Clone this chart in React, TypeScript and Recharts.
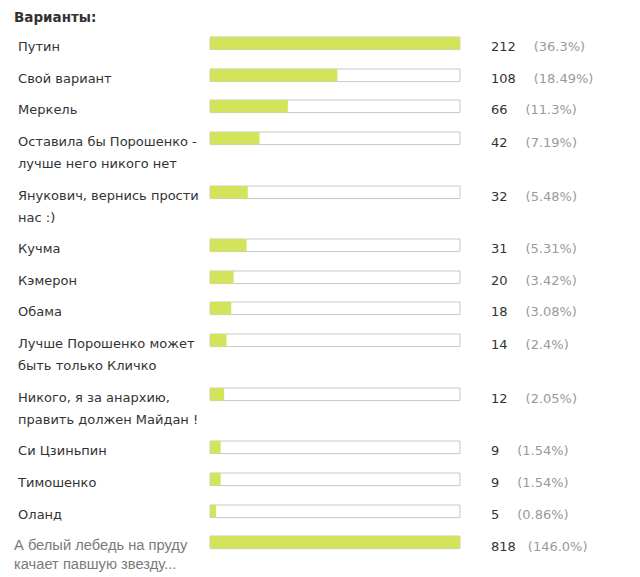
import { BarChart, Bar, XAxis, YAxis } from "recharts";

const options = [
  "Путин",
  "Свой вариант",
  "Меркель",
  "Оставила бы Порошенко -\nлучше него никого нет",
  "Янукович, вернись прости\nнас :)",
  "Кучма",
  "Кэмерон",
  "Обама",
  "Лучше Порошенко может\nбыть только Кличко",
  "Никого, я за анархию,\nправить должен Майдан !",
  "Си Цзиньпин",
  "Тимошенко",
  "Оланд",
  "А белый лебедь на пруду\nкачает павшую звезду...",
];
const votes = [212, 108, 66, 42, 32, 31, 20, 18, 14, 12, 9, 9, 5, 818];
const shares = ["36.3%", "18.49%", "11.3%", "7.19%", "5.48%", "5.31%", "3.42%", "3.08%", "2.4%", "2.05%", "1.54%", "1.54%", "0.86%", "146.0%"];
const scaleMax = 212;

const FONT = "DejaVu Sans, Verdana, sans-serif";

function PollRow({ index }: { index: number }) {
  const lines = options[index].split("\n");
  const isFooter = index === options.length - 1;
  const height = isFooter ? 42 : lines.length > 1 ? 53.5 : 31.7;
  const data = [{ name: options[index], votes: votes[index] }];

  const renderLabel = (props: any) => {
    const { y } = props;
    return (
      <text
        x={isFooter ? 14 : 18}
        y={y + 8}
        fill={isFooter ? "#7a7a7a" : "#333"}
        fontSize={isFooter ? 14.7 : 13}
        fontFamily={isFooter ? "Liberation Sans, Arial, sans-serif" : FONT}
      >
        {lines.map((l, i) => (
          <tspan key={i} x={isFooter ? 14 : 18} dy={i === 0 ? 0 : isFooter ? 19 : 22}>
            {l}
          </tspan>
        ))}
      </text>
    );
  };

  const renderValue = (props: any) => {
    const { x, y } = props;
    return (
      <text x={x + 23} y={y + 8.5} fontSize={13} fontFamily={FONT}>
        <tspan fill="#333">{votes[index]}</tspan>
        <tspan fill="#9a9a9a" dx={isFooter ? 12 : 18}>({shares[index]})</tspan>
      </text>
    );
  };

  return (
    <BarChart
      width={640}
      height={height}
      data={data}
      layout="vertical"
      margin={{ top: 0, right: 0, bottom: height - 14, left: 0 }}
      barCategoryGap={0}
      style={{ overflow: "visible" }}
    >
      <XAxis type="number" domain={[0, scaleMax]} allowDataOverflow hide />
      <YAxis
        yAxisId="label"
        type="category"
        dataKey="name"
        width={210}
        axisLine={false}
        tickLine={false}
        interval={0}
        tick={renderLabel}
      />
      <YAxis
        yAxisId="value"
        orientation="right"
        type="category"
        dataKey="name"
        width={180}
        axisLine={false}
        tickLine={false}
        interval={0}
        tick={renderValue}
      />
      <Bar
        yAxisId="label"
        dataKey="votes"
        barSize={14}
        fill="#d3e35b"
        background={{ fill: "#ffffff", stroke: "#c8c8c8", strokeWidth: 1 }}
        isAnimationActive={false}
      />
    </BarChart>
  );
}

export default function App() {
  return (
    <div
      style={{
        position: "absolute",
        left: 0,
        top: 0,
        width: 640,
        height: 577,
        background: "#fff",
        overflow: "hidden",
      }}
    >
      <div
        style={{
          position: "absolute",
          left: 14,
          top: 9,
          fontFamily: FONT,
          fontWeight: "bold",
          fontSize: 13.5,
          color: "#333",
        }}
      >
        Варианты:
      </div>
      <div style={{ position: "absolute", left: 0, top: 36 }}>
        {options.map((_, i) => (
          <PollRow key={i} index={i} />
        ))}
      </div>
    </div>
  );
}
